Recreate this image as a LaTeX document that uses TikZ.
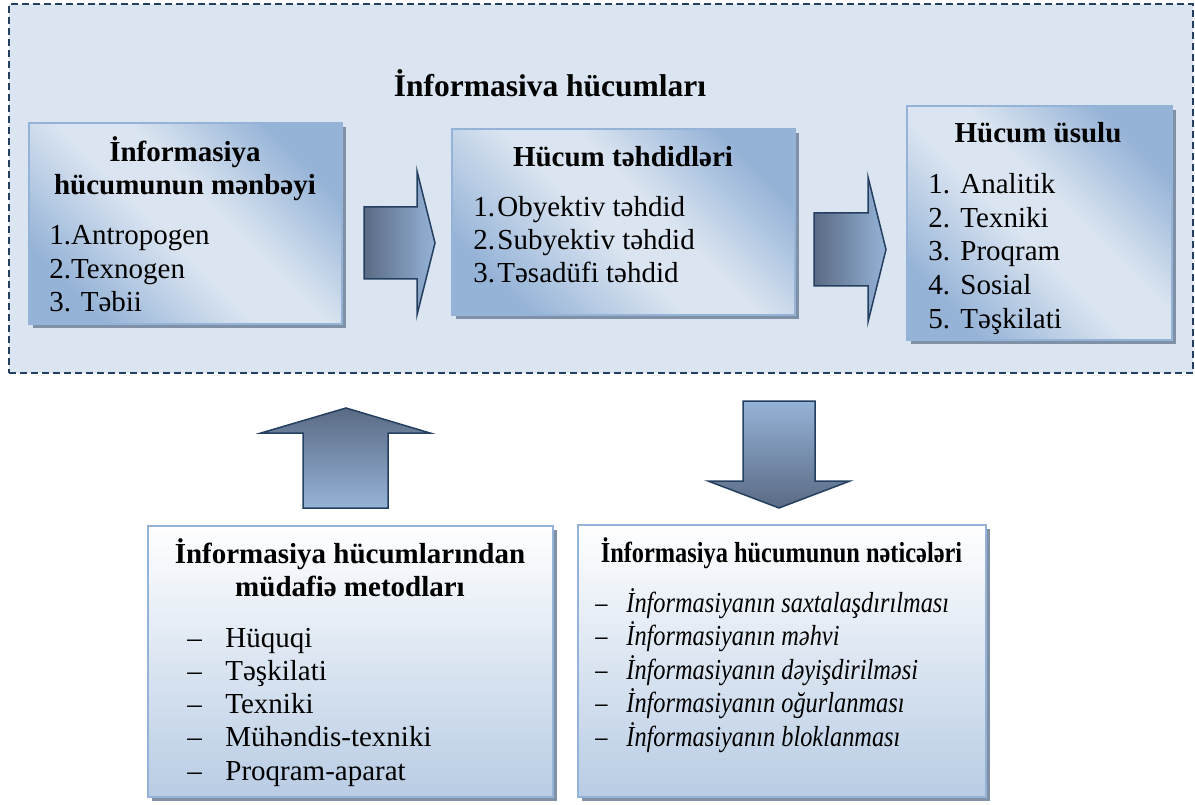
\documentclass[tikz,border=0pt]{standalone}
\usepackage{fontspec}
\setmainfont{Liberation Serif}
\newfontfamily\narrowserif[FakeStretch=0.84]{Liberation Serif}
\usetikzlibrary{shadows}

\definecolor{paleblue}{RGB}{219,229,241}
\definecolor{midblue}{RGB}{149,179,215}
\definecolor{lowblue}{RGB}{184,204,228}
\definecolor{navyline}{RGB}{36,63,96}
\definecolor{slateblue}{RGB}{90,106,132}
\definecolor{shadowgray}{RGB}{128,144,166}

\pgfdeclarehorizontalshading{diagblue}{100bp}{color(0bp)=(midblue); color(25bp)=(midblue);
  color(46bp)=(paleblue); color(56bp)=(paleblue); color(75bp)=(midblue); color(100bp)=(midblue)}

\begin{document}
\begin{tikzpicture}[x=1pt,y=-1pt,thick,
  boxshadow/.style={drop shadow={shadow xshift=4pt,shadow yshift=-4pt,fill=shadowgray,opacity=1}},
  topbox/.style={draw=midblue,line width=2.5pt,shade,shading=diagblue,shading angle=45,boxshadow},
  lowbox/.style={draw=midblue,line width=2.5pt,top color=white,bottom color=lowblue,boxshadow},
  blockarrow/.style={draw=navyline,line width=1.5pt,line join=miter},
  head/.style={font=\fontsize{29}{33}\selectfont\bfseries,anchor=base,inner sep=0pt},
  item/.style={font=\fontsize{29}{33}\selectfont,anchor=base west,inner sep=0pt}]
\useasboundingbox (0,0) rectangle (1195,805);

% dashed frame round the top row
\node (frame) [draw=navyline,line width=1.5pt,dash pattern=on 7pt off 4pt,fill=paleblue,
  minimum width=1184pt,minimum height=369pt] at (601,188.5) {};
\node (title) [head,font=\fontsize{31.5}{36}\selectfont\bfseries] at (550,97) {İnformasiva hücumları};

% boxes
\node (src) [topbox,minimum width=313pt,minimum height=201pt] at (185.5,223.5) {};
\node (thr) [topbox,minimum width=343pt,minimum height=186pt] at (623.5,222) {};
\node (way) [topbox,minimum width=265pt,minimum height=234pt] at (1039.5,223) {};
\node (def) [lowbox,minimum width=405pt,minimum height=271pt] at (350.5,661.5) {};
\node (res) [lowbox,minimum width=408pt,minimum height=272pt] at (782,661) {};

% block arrows
\shade[blockarrow,left color=slateblue,right color=midblue]
  (364,207) -- (417,207) -- (417,171) -- (435,243) -- (417,315) -- (417,279) -- (364,279) -- cycle;
\shade[blockarrow,left color=slateblue,right color=midblue]
  (814,213) -- (868,213) -- (868,177) -- (886,249.5) -- (868,322) -- (868,286) -- (814,286) -- cycle;
\shade[blockarrow,top color=slateblue,bottom color=midblue]
  (303,508) -- (303,433) -- (261,433) -- (346,408) -- (430,433) -- (388,433) -- (388,508) -- cycle;
\shade[blockarrow,top color=midblue,bottom color=slateblue]
  (743,401) -- (815,401) -- (815,481) -- (850,481) -- (779,508) -- (708,481) -- (743,481) -- cycle;

% source of the attack
\node (src-t1) [head] at (185,162) {İnformasiya};
\node (src-t2) [head] at (185,195) {hücumunun mənbəyi};
\foreach \t [count=\i from 0] in {1.Antropogen,2.Texnogen,3. Təbii}
  \node (src-\i) [item] at (49,{245+33.5*\i}) {\t};

% threats
\node (thr-t) [head] at (623,167) {Hücum təhdidləri};
\foreach \n/\t [count=\i from 0] in {1./Obyektiv təhdid,2./Subyektiv təhdid,3./Təsadüfi təhdid}{
  \node (thr-n\i) [item] at (473,{217+33*\i}) {\n};
  \node (thr-\i) [item] at (497,{217+33*\i}) {\t};
}

% method
\node (way-t) [head] at (1038,143) {Hücum üsulu};
\foreach \n/\t [count=\i from 0] in {1./Analitik,2./Texniki,3./Proqram,4./Sosial,5./Təşkilati}{
  \node (way-n\i) [item] at (928,{194+33.5*\i}) {\n};
  \node (way-\i) [item] at (960,{194+33.5*\i}) {\t};
}

% protection methods
\node (def-t1) [head] at (350,563) {İnformasiya hücumlarından};
\node (def-t2) [head] at (350,596) {müdafiə metodları};
\foreach \t [count=\i from 0] in {Hüquqi,Təşkilati,Texniki,Mühəndis-texniki,Proqram-aparat}{
  \node (def-d\i) [item] at (187,{647+33.3*\i}) {–};
  \node (def-\i) [item] at (225,{647+33.3*\i}) {\t};
}

% results
\node (res-t) [head,font=\fontsize{29}{33}\selectfont\narrowserif\bfseries] at (781.5,562) {İnformasiya hücumunun nəticələri};
\foreach \t [count=\i from 0] in {saxtalaşdırılması,məhvi,dəyişdirilməsi,oğurlanması,bloklanması}{
  \node (res-d\i) [item,font=\fontsize{29}{33}\selectfont\narrowserif] at (595,{612+33.5*\i}) {–};
  \node (res-\i) [item,font=\fontsize{29}{33}\selectfont\narrowserif\itshape] at (626,{612+33.5*\i}) {İnformasiyanın \t};
}
\end{tikzpicture}
\end{document}
